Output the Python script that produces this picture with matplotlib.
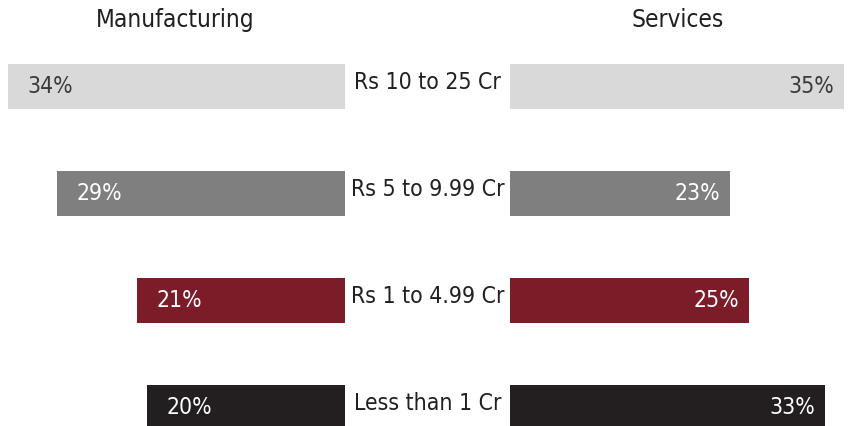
import matplotlib.pyplot as plt

plt.rcParams['font.family']=['DejaVu Sans']
plt.rcParams['font.stretch']='condensed'

categories=['Rs 10 to 25 Cr','Rs 5 to 9.99 Cr','Rs 1 to 4.99 Cr','Less than 1 Cr']
manufacturing=[34,29,21,20]
services=[35,23,25,33]
colors=['#d9d9d9','#7f7f7f','#7b1c28','#231f20']
label_colors=['#3a3a3a','white','white','white']

W,H=849,427
fig=plt.figure(figsize=(W/100,H/100),dpi=100)
fig.patch.set_facecolor('white')

ylim=(3.17,-0.82)
bh=0.42
ypos=list(range(len(categories)))
FS=16.5

#Left panel (manufacturing), grows leftward from px 345.
axl=fig.add_axes([0,0,345/W,1])
axl.barh(ypos,manufacturing,height=bh,color=colors)
axl.set_xlim(345/9.92,0)
axl.set_ylim(*ylim)
axl.axis('off')
for y,v,c in zip(ypos,manufacturing,label_colors):
    axl.annotate(f'{v}%',(v,y),xytext=(14,1),textcoords='offset points',
                 ha='left',va='center',color=c,fontsize=FS)

#Right panel (services), grows rightward from px 510.
axr=fig.add_axes([510/W,0,339/W,1])
axr.barh(ypos,services,height=bh,color=colors)
axr.set_xlim(0,339/9.55)
axr.set_ylim(*ylim)
axr.axis('off')
for y,v,c in zip(ypos,services,label_colors):
    axr.annotate(f'{v}%',(v,y),xytext=(-7,1),textcoords='offset points',
                 ha='right',va='center',color=c,fontsize=FS)

#Category labels in the middle gap.
axm=fig.add_axes([345/W,0,165/W,1])
axm.set_xlim(0,1)
axm.set_ylim(*ylim)
axm.axis('off')
for y,cat in zip(ypos,categories):
    axm.annotate(cat,(0.5,y),xytext=(0,4),textcoords='offset points',
                 ha='center',va='center',color='#231f20',fontsize=FS)

fig.text(175/W,1-20/H,'Manufacturing',ha='center',va='center',fontsize=17.5,color='#231f20')
fig.text(678/W,1-20/H,'Services',ha='center',va='center',fontsize=17.5,color='#231f20')

fig.savefig('out.png',dpi=100,facecolor='white')
